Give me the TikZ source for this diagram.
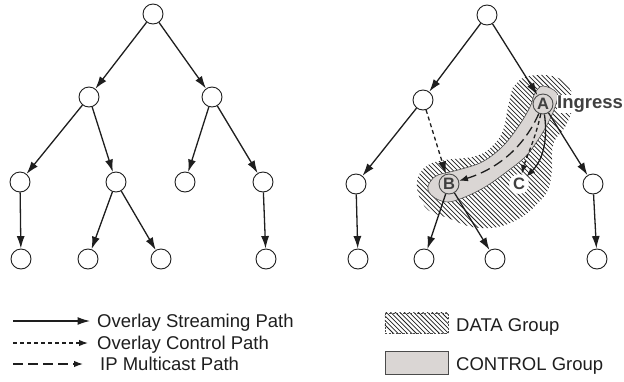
\documentclass[tikz,border=0pt]{standalone}
\usepackage{fontspec}
\setmainfont{Liberation Sans}
\usetikzlibrary{arrows.meta}
\definecolor{ctrlgray}{RGB}{218,214,212}
\definecolor{ink}{RGB}{30,30,30}
\begin{document}
\begin{tikzpicture}[x=1pt,y=-1pt,
  peer/.style={circle,draw=ink,line width=0.9pt,minimum size=20pt,inner sep=0pt,fill=white},
  member/.style={circle,draw=ink!80,line width=0.9pt,minimum size=20pt,inner sep=0pt,
    font=\fontsize{16.5}{16}\selectfont\bfseries,text=ink!85},
  stream/.style={-{Latex[length=12.5pt,width=8pt]},line width=1.3pt,draw=ink},
  ctrl/.style={stream,dash pattern=on 4pt off 3pt},
  mcast/.style={stream,dash pattern=on 10pt off 5pt},
  small/.style={-{Latex[length=9pt,width=6.5pt]}},
  hatchline/.style={draw=ink,line width=0.75pt},
  legtext/.style={anchor=base west,inner sep=0pt,font=\fontsize{18.5}{20}\selectfont,text=ink}
]
\useasboundingbox (0,0) rectangle (624,381);

% ---------- left tree: overlay multicast tree ----------
\node[peer] (l0)  at (153,14)  {};
\node[peer] (l1a) at (89,97)   {};
\node[peer] (l1b) at (212,97)  {};
\node[peer] (l2a) at (20,182)  {};
\node[peer] (l2b) at (116,182) {};
\node[peer] (l2c) at (185,182) {};
\node[peer] (l2d) at (263,182) {};
\node[peer] (l3a) at (21,259)  {};
\node[peer] (l3b) at (88,259)  {};
\node[peer] (l3c) at (161,259) {};
\node[peer] (l3d) at (266,259) {};

\draw[stream] (l0) -- (l1a);
\draw[stream] (l0) -- (l1b);
\draw[stream] (l1a) -- (l2a);
\draw[stream] (l1a) -- (l2b);
\draw[stream] (l1b) -- (l2c);
\draw[stream] (l1b) -- (l2d);
\draw[stream] (l2a) -- (l3a);
\draw[stream] (l2b) -- (l3b);
\draw[stream] (l2b) -- (l3c);
\draw[stream] (l2d) -- (l3d);

% ---------- right tree: groups ----------
% DATA group region, hatched
\begin{scope}
  \clip plot[smooth cycle,tension=0.6] coordinates {
    (515,85) (525,77) (545,75) (562,80) (572,93) (572,110) (565,127) (555,140)
    (552,153) (552,170) (548,190) (538,203) (522,217) (498,227) (472,227)
    (448,218) (428,210) (418,193) (418,177) (428,165) (445,160) (472,157)
    (488,150) (502,133) (508,107) (512,90)};
  \foreach \k in {0,4.6,...,400}
    \draw[hatchline] (200+\k,60) -- ++(200,200);
\end{scope}
% CONTROL group region
\filldraw[fill=ctrlgray,draw=ink!80,line width=0.6pt] plot[smooth cycle,tension=0.6] coordinates {
  (543,86) (557,93) (555,107) (548,123) (538,140) (525,157) (505,173)
  (485,187) (465,197) (448,202) (435,198) (428,190) (430,182) (438,175)
  (458,170) (482,162) (502,147) (518,127) (530,107) (535,93)};

\node[peer] (r0)  at (487,15)  {};
\node[peer] (r1a) at (423,100) {};
\node[member,fill=ctrlgray] (A) at (543,104) {A};
\node[peer] (r2a) at (356,184) {};
\node[member,fill=ctrlgray] (B) at (449,184) {B};
\node[member,draw=none,fill=white] (C) at (519,184) {C};
\node[peer] (r2d) at (593,184) {};
\node[peer] (r3a) at (358,259) {};
\node[peer] (r3b) at (424,259) {};
\node[peer] (r3c) at (495,259) {};
\node[peer] (r3d) at (597,259) {};

\node[anchor=west,fill=white,inner sep=0.5pt,font=\fontsize{18.5}{20}\selectfont\bfseries,text=ink!85]
  (ingress) at ([xshift=3pt]A.east) {Ingress};

\draw[stream] (r0) -- (r1a);
\draw[stream] (r0) -- (A);
\draw[stream] (r1a) -- (r2a);
\draw[ctrl] (r1a) -- (B);
\draw[stream] (A) -- (r2d);
\draw[stream] (r2a) -- (r3a);
\draw[stream] (B) -- (r3b);
\draw[stream] (B) -- (r3c);
\draw[stream] (r2d) -- (r3d);
\draw[mcast,small] (A) .. controls (525,145) and (500,168) .. (B);
\draw[ctrl,small] (A) .. controls (535,140) and (526,158) .. (C);
\draw[stream,small] (A) .. controls (548,140) and (543,160) .. (C);

% ---------- legend ----------
\coordinate (ls1) at (13,321);  \coordinate (le1) at (90,321);
\coordinate (ls2) at (13,343);  \coordinate (le2) at (88,343);
\coordinate (ls3) at (13,364);  \coordinate (le3) at (83,364);
\draw[stream] (ls1) -- (le1);
\draw[ctrl,small] (ls2) -- (le2);
\draw[mcast,small] (ls3) -- (le3);
\node[legtext] (t1) at (97,327.6)  {Overlay Streaming Path};
\node[legtext] (t2) at (97,349.6)  {Overlay Control Path};
\node[legtext] (t3) at (100,370.6) {IP Multicast Path};

\node[minimum width=63pt,minimum height=20pt,inner sep=0pt] (datakey) at (416.5,323) {};
\begin{scope}
  \clip (datakey.north west) rectangle (datakey.south east);
  \foreach \k in {0,4.6,...,100}
    \draw[hatchline] (360+\k,300) -- ++(50,50);
\end{scope}
\draw[ink!80,line width=0.5pt,dash pattern=on 2pt off 1.5pt]
  (datakey.north west) rectangle (datakey.south east);
\node[fill=ctrlgray,draw=ink!80,line width=0.7pt,
  minimum width=63pt,minimum height=23pt,inner sep=0pt] (ctrlkey) at (416.5,362.5) {};
\node[legtext] (t4) at (456,331.6) {DATA Group};
\node[legtext] (t5) at (456,370.1) {CONTROL Group};
\end{tikzpicture}
\end{document}
